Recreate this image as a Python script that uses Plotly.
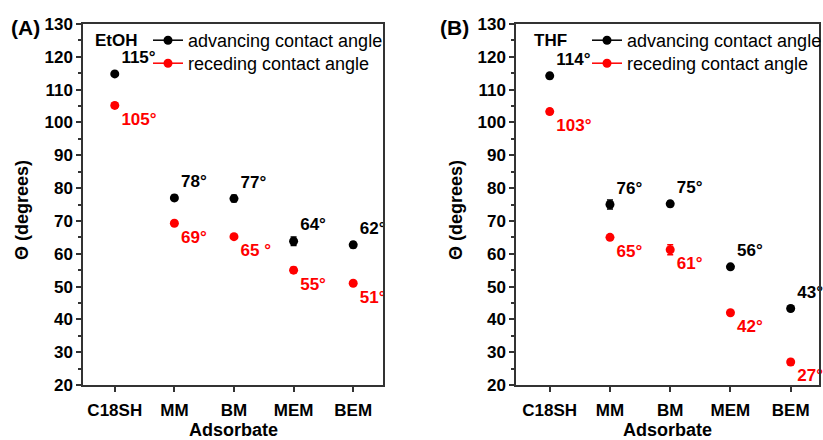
import plotly.graph_objects as go

categories = ["C18SH", "MM", "BM", "MEM", "BEM"]

etoh_adv = [114.8, 77.0, 76.8, 63.8, 62.7]
etoh_adv_err = [0.5, 0.8, 1.0, 1.3, 0.9]
etoh_rec = [105.2, 69.3, 65.2, 55.0, 51.0]
etoh_rec_err = [0.8, 0.5, 0.6, 0.9, 0.6]
etoh_adv_lbl = ["115°", "78°", "77°", "64°", "62°"]
etoh_rec_lbl = ["105°", "69°", "65 °", "55°", "51°"]

thf_adv = [114.2, 75.0, 75.2, 56.0, 43.3]
thf_adv_err = [0.8, 1.4, 0.8, 0.6, 0.7]
thf_rec = [103.3, 65.0, 61.2, 42.0, 27.0]
thf_rec_err = [0.8, 0.7, 1.5, 0.6, 0.8]
thf_adv_lbl = ["114°", "76°", "75°", "56°", "43°"]
thf_rec_lbl = ["103°", "65°", "61°", "42°", "27°"]

y_ticks = list(range(20, 131, 10))

FONT = "Liberation Sans, Arial, sans-serif"
W, H = 823, 440
xpos = list(range(len(categories)))

fig = go.Figure()

def add_panel(xa, ya, adv, adv_err, rec, rec_err, adv_lbl, rec_lbl, legs):
    for vals, errs, lbls, color, pos, name, leg in [
        (adv, adv_err, adv_lbl, "black", "top right", "advancing contact angle", legs[0]),
        (rec, rec_err, rec_lbl, "red", "bottom right", "receding contact angle", legs[1]),
    ]:
        fig.add_trace(go.Scatter(
            x=xpos, y=vals, xaxis=xa, yaxis=ya, mode="markers+text",
            marker=dict(color=color, size=9),
            error_y=dict(type="data", array=errs, color=color, thickness=1.5, width=3),
            text=lbls, textposition=pos, cliponaxis=False,
            textfont=dict(family=FONT, size=17, color=color, weight="bold"),
            showlegend=False, hoverinfo="skip",
        ))
        fig.add_trace(go.Scatter(
            x=[None], y=[None], xaxis=xa, yaxis=ya, mode="lines+markers",
            marker=dict(color=color, size=9), line=dict(color=color, width=1.5),
            name=name, legend=leg, showlegend=True,
        ))

add_panel("x", "y", etoh_adv, etoh_adv_err, etoh_rec, etoh_rec_err, etoh_adv_lbl, etoh_rec_lbl,
          ("legend", "legend2"))
add_panel("x2", "y2", thf_adv, thf_adv_err, thf_rec, thf_rec_err, thf_adv_lbl, thf_rec_lbl,
          ("legend3", "legend4"))

ydom = [1 - 385 / H, 1 - 24 / H]
xcommon = dict(tickmode="array", tickvals=xpos, ticktext=categories,
               ticks="outside", ticklen=5, tickwidth=1.5, tickcolor="#333",
               ticklabelstandoff=4, automargin=False,
               showline=True, linecolor="#333", linewidth=1.5, mirror=True,
               showgrid=False, zeroline=False,
               tickfont=dict(family=FONT, size=17, color="black", weight="bold"))
ycommon = dict(range=[20, 130], tickmode="array", tickvals=y_ticks, automargin=False,
               ticks="outside", ticklen=5, tickwidth=1.5, tickcolor="#333",
               minor=dict(ticks="outside", ticklen=3, tickwidth=1.5, tickcolor="#333", dtick=5, tick0=0),
               showline=True, linecolor="#333", linewidth=1.5, mirror=True,
               showgrid=False, zeroline=False,
               tickfont=dict(family=FONT, size=17, color="black", weight="bold"))

def leg(xpx, ypx, xanchor="left"):
    return dict(x=xpx / W, y=1 - ypx / H, xanchor=xanchor, yanchor="top",
                bgcolor="rgba(0,0,0,0)", font=dict(family=FONT, size=18, color="black"))

fig.update_layout(
    width=W, height=H, margin=dict(l=0, r=0, t=0, b=0, autoexpand=False),
    paper_bgcolor="white", plot_bgcolor="white",
    xaxis=dict(domain=[83 / W, 383 / W], range=[-0.533, 4.5], anchor="y", **xcommon),
    yaxis=dict(domain=ydom, anchor="x", **ycommon),
    xaxis2=dict(domain=[516 / W, 819 / W], range=[-0.56, 4.47], anchor="y2", **xcommon),
    yaxis2=dict(domain=ydom, anchor="x2", **ycommon),
    legend=leg(148, 22),
    legend2=leg(148, 45),
    legend3=leg(587, 22),
    legend4=leg(587, 45),
    showlegend=True,
)

ann = [
    dict(text="(A)", x=25, y=27, size=21),
    dict(text="(B)", x=454, y=27, size=21),
    dict(text="EtOH", x=116, y=40, size=17),
    dict(text="THF", x=550, y=40, size=17),
    dict(text="Adsorbate", x=233, y=430, size=18),
    dict(text="Adsorbate", x=667, y=430, size=18),
]
for a in ann:
    fig.add_annotation(text=a["text"], x=a["x"] / W, y=1 - a["y"] / H, xref="paper", yref="paper",
                       showarrow=False, xanchor="center", yanchor="middle", borderpad=0,
                       font=dict(family=FONT, size=a["size"], color="black", weight="bold"))
for xc in [22, 456]:
    fig.add_annotation(text="Θ (degrees)", x=xc / W, y=1 - 210 / H, xref="paper", yref="paper",
                       showarrow=False, textangle=-90, xanchor="center", yanchor="middle",
                       font=dict(family=FONT, size=18, color="black", weight="bold"))

fig.write_html("out.html")
